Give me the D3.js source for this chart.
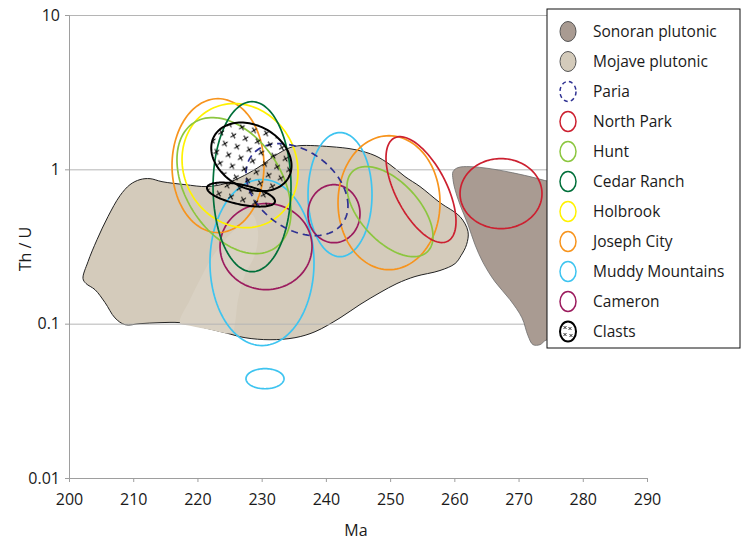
<!DOCTYPE html>
<html>
<head>
<meta charset="utf-8">
<script src="https://cdn.jsdelivr.net/npm/d3@7"></script>
<style>
  body { margin: 0; background: #fff; }
  svg { display: block; font-family: "Open Sans", sans-serif; }
</style>
</head>
<body>
<svg id="chart" width="747" height="541"></svg>
<script>
// ---- data ----
const xTicks = [200, 210, 220, 230, 240, 250, 260, 270, 280, 290];
const yTicks = [0.01, 0.1, 1, 10];
const xTitle = "Ma";
const yTitle = "Th / U";

// Plutonic provinces: outline vertices [age (Ma), Th/U]
const mojaveOutline = [
  [202.18,0.196],[202.96,0.252],[204.36,0.350],[206.07,0.494],[207.94,0.675],
  [209.50,0.796],[211.06,0.858],[212.62,0.870],[214.48,0.832],[218.06,0.796],
  [221.49,0.773],[224.29,0.808],[226.63,0.884],[229.43,1.026],[232.08,1.227],
  [234.41,1.382],[235.97,1.424],[240.64,1.403],[244.53,1.342],[247.65,1.227],
  [249.98,1.073],[252.32,0.897],[254.66,0.773],[257.77,0.608],[260.88,0.494],
  [262.13,0.395],[261.90,0.325],[261.04,0.276],[260.11,0.245],[257.77,0.221],
  [253.88,0.202],[251.07,0.182],[248.43,0.159],[245.31,0.133],[242.20,0.109],
  [238.31,0.0887],[235.19,0.0811],[231.30,0.0787],[227.41,0.0811],[224.29,0.0874],
  [220.40,0.0956],[217.28,0.1015],[214.17,0.1015],[211.06,0.100],[208.72,0.0985],
  [207.16,0.109],[205.61,0.137],[204.05,0.166],[202.65,0.182]
];
const mojaveLightZone = [
  [217.28,0.1015],[218.84,0.143],[220.40,0.193],[222.27,0.268],[224.29,0.350],
  [226.63,0.438],[228.50,0.509],[229.43,0.395],[228.96,0.280],[227.41,0.208],
  [226.32,0.143],[225.86,0.1015],[225.38,0.0874],[221.96,0.0914],[218.84,0.0970]
];
const sonoranOutline = [
  [259.79,0.966],[260.57,1.026],[262.44,1.041],[265.56,1.010],[268.20,0.966],
  [271.78,0.897],[274.90,0.832],[279.57,0.780],[279.57,0.075],[274.43,0.0787],
  [273.34,0.0731],[272.25,0.0731],[271.47,0.0836],[270.54,0.109],[268.67,0.143],
  [266.33,0.187],[264.47,0.249],[263.22,0.325],[262.13,0.438],[260.88,0.590],
  [260.11,0.739],[259.79,0.858]
];

// Detrital zircon fields: [centre age (Ma), centre Th/U, age half-width (Ma),
// half-height (log10 units), age–log(Th/U) correlation]
const pariaFields       = [[235.50, 0.739, 7.94, 0.298, -0.35]];
const northParkFields   = [[254.81, 0.739, 5.45, 0.343, -0.60],
                           [267.27, 0.696, 6.38, 0.227,  0.00]];
const huntFields        = [[225.69, 0.784, 8.88, 0.441, -0.38],
                           [249.98, 0.532, 6.70, 0.292, -0.55]];
const cedarRanchFields  = [[228.50, 0.772, 6.07, 0.551,  0.00]];
const holbrookFields    = [[226.63, 1.057, 9.03, 0.402, -0.10]];
const josephCityFields  = [[223.20, 1.057, 7.16, 0.434,  0.00],
                           [249.83, 0.608, 7.94, 0.434,  0.00]];
const muddyMtnFields    = [[242.20, 0.686, 4.98, 0.402,  0.00],
                           [230.05, 0.249, 8.10, 0.538,  0.00],
                           [230.52, 0.044, 2.96, 0.065,  0.00]];
const cameronFields     = [[230.68, 0.316, 7.16, 0.279,  0.00],
                           [241.26, 0.516, 4.05, 0.188,  0.00]];
const clastFields       = [[228.40, 1.205, 6.25, 0.222, -0.26],
                           [226.78, 0.686, 5.30, 0.078, -0.55]];

const legendNames = ["Sonoran plutonic","Mojave plutonic","Paria","North Park","Hunt",
  "Cedar Ranch","Holbrook","Joseph City","Muddy Mountains","Cameron","Clasts"];

// ---- styles ----
const style = {
  "Sonoran plutonic": {kind:"area", fill:"#A99B92", stroke:"#6f6f6f"},
  "Mojave plutonic":  {kind:"area", fill:"#D4CBBB", stroke:"#222"},
  "Paria":            {kind:"dash", stroke:"#2E3192"},
  "North Park":       {kind:"ring", stroke:"#CC2030"},
  "Hunt":             {kind:"ring", stroke:"#8CC63F"},
  "Cedar Ranch":      {kind:"ring", stroke:"#006F3A"},
  "Holbrook":         {kind:"ring", stroke:"#FFF200"},
  "Joseph City":      {kind:"ring", stroke:"#F7941D"},
  "Muddy Mountains":  {kind:"ring", stroke:"#3EC4F0"},
  "Cameron":          {kind:"ring", stroke:"#9B1B5E"},
  "Clasts":           {kind:"clast", stroke:"#000"}
};

const svg = d3.select("#chart");
const plot = {left: 69, right: 647, top: 15, bottom: 478};

const x = d3.scaleLinear().domain([200, 290]).range([plot.left, plot.right]);
const y = d3.scaleLog().domain([0.01, 10]).range([plot.bottom, plot.top]);

// pattern of small x marks used for the clast fields
const defs = svg.append("defs");
const pat = defs.append("pattern").attr("id", "xmarks")
  .attr("patternUnits", "userSpaceOnUse")
  .attr("width", 12.5).attr("height", 20)
  .attr("patternTransform", "rotate(14)");
[[3, 5], [9.25, 15]].forEach(([px, py]) => {
  pat.append("path")
    .attr("d", `M${px-2.3},${py-2.3}L${px+2.3},${py+2.3}M${px-2.3},${py+2.3}L${px+2.3},${py-2.3}`)
    .attr("stroke", "#000").attr("stroke-width", 1);
});

const areaLine = d3.line().x(d => x(d[0])).y(d => y(d[1])).curve(d3.curveCatmullRomClosed.alpha(0.5));

// plutonic provinces
svg.append("path").datum(mojaveOutline).attr("d", areaLine)
  .attr("fill", style["Mojave plutonic"].fill)
  .attr("stroke", style["Mojave plutonic"].stroke).attr("stroke-width", 1);
svg.append("path").datum(mojaveLightZone).attr("d", areaLine)
  .attr("fill", "#D9D1C3").attr("stroke", "none");

// grid lines
const grid = svg.append("g").attr("transform", `translate(${plot.left},0)`)
  .call(d3.axisLeft(y).tickValues(yTicks.filter(v => v > 0.01))
        .tickSize(-(plot.right - plot.left)).tickFormat(""));
grid.select(".domain").remove();
grid.selectAll("line").attr("stroke", "#B5B5B5").attr("stroke-width", 1);

svg.append("path").datum(sonoranOutline).attr("d", areaLine)
  .attr("fill", style["Sonoran plutonic"].fill)
  .attr("stroke", style["Sonoran plutonic"].stroke).attr("stroke-width", 0.8);

// ellipse outline for a field, built in screen space from the scales
function fieldPath(f) {
  const [age, ratio, hw, hh, rho] = f;
  const cx = x(age), cy = y(ratio);
  const sx = x(age + hw) - cx;
  const sy = cy - y(ratio * Math.pow(10, hh));
  const k = Math.sqrt(1 - rho * rho);
  const pts = d3.range(0, 2 * Math.PI, Math.PI / 60).map(t =>
    [cx + sx * Math.cos(t), cy - sy * (rho * Math.cos(t) + k * Math.sin(t))]);
  return d3.line().curve(d3.curveLinearClosed)(pts);
}

const fieldSets = [
  ["Muddy Mountains", muddyMtnFields],
  ["Cameron", cameronFields],
  ["Joseph City", josephCityFields],
  ["Holbrook", holbrookFields],
  ["Hunt", huntFields],
  ["Cedar Ranch", cedarRanchFields],
  ["North Park", northParkFields],
  ["Paria", pariaFields],
  ["Clasts", clastFields]
];
const fieldsG = svg.append("g");
fieldSets.forEach(([name, fields]) => {
  const s = style[name];
  fieldsG.selectAll(null).data(fields).enter().append("path")
    .attr("d", fieldPath)
    .attr("fill", s.kind === "clast" ? "url(#xmarks)" : "none")
    .attr("stroke", s.stroke)
    .attr("stroke-width", s.kind === "clast" ? 2 : 1.7)
    .attr("stroke-dasharray", s.kind === "dash" ? "7,5" : null);
});

// axes
const yAxis = svg.append("g").attr("transform", `translate(${plot.left},0)`)
  .call(d3.axisLeft(y).tickValues(yTicks).tickSize(4).tickPadding(5)
        .tickFormat(d => String(d)));
const xAxis = svg.append("g").attr("transform", `translate(0,${plot.bottom})`)
  .call(d3.axisBottom(x).tickValues(xTicks).tickSize(4).tickPadding(12)
        .tickFormat(d3.format("d")));
[yAxis, xAxis].forEach(g => {
  g.select(".domain").attr("stroke", "#9E9E9E");
  g.selectAll(".tick line").attr("stroke", "#9E9E9E");
  g.selectAll(".tick text").attr("fill", "#1a1a1a")
    .style("font-size", "16px").style("font-family", "'Open Sans', sans-serif");
});

svg.append("text").attr("x", (plot.left + plot.right) / 2 - 2).attr("y", 536)
  .attr("text-anchor", "middle").attr("fill", "#1a1a1a")
  .style("font-size", "16px").text(xTitle);
svg.append("text").attr("transform", `translate(31,249) rotate(-90)`)
  .attr("text-anchor", "middle").attr("fill", "#1a1a1a")
  .style("font-size", "16px").text(yTitle);

// legend
const lg = svg.append("g").attr("transform", "translate(547,9)");
lg.append("rect").attr("width", 193).attr("height", 339)
  .attr("fill", "#fff").attr("stroke", "#111").attr("stroke-width", 1);
const rowY = i => 22.5 + i * 30;
legendNames.forEach((name, i) => {
  const s = style[name];
  const row = lg.append("g").attr("transform", `translate(21,${rowY(i)})`);
  const e = row.append("ellipse").attr("rx", 8).attr("ry", 10)
    .attr("stroke-width", s.kind === "area" ? 1 : 1.5);
  if (s.kind === "area") {
    e.attr("fill", s.fill).attr("stroke", "#555");
  } else {
    e.attr("fill", "none").attr("stroke", s.stroke);
  }
  if (s.kind === "dash") e.attr("stroke-dasharray", "4,3.2");
  if (s.kind === "clast") {
    e.attr("stroke-width", 2);
    [[-3,-4],[2,-3],[-3,3],[3,4]].forEach(([px, py]) => {
      row.append("path")
        .attr("d", `M${px-1.5},${py-1.5}L${px+1.5},${py+1.5}M${px-1.5},${py+1.5}L${px+1.5},${py-1.5}`)
        .attr("stroke", "#000").attr("stroke-width", 0.8);
    });
  }
  row.append("text").attr("x", 25).attr("y", 5.5)
    .attr("fill", "#1a1a1a").style("font-size", "15.5px").text(name);
});
</script>
</body>
</html>
